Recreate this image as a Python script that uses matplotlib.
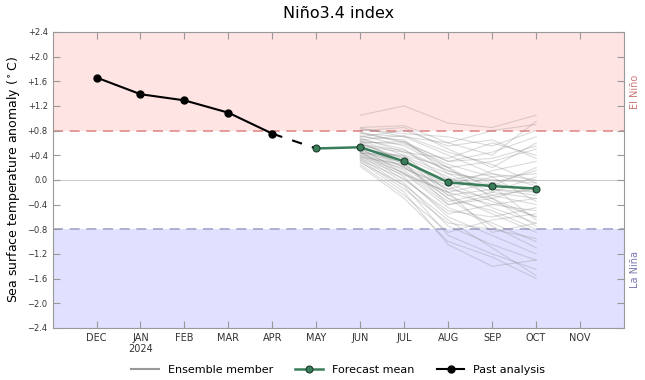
import matplotlib
matplotlib.use("Agg")
from matplotlib import pyplot as plt

months = ["DEC", "JAN\n2024", "FEB", "MAR", "APR", "MAY", "JUN", "JUL", "AUG", "SEP", "OCT", "NOV"]
past = [1.66, 1.39, 1.29, 1.09, 0.75]          # DEC..APR
mean_fc = [0.51, 0.53, 0.30, -0.04, -0.10, -0.14]  # MAY..OCT
ens = [  # JUN, JUL, AUG, SEP, OCT
    [1.05, 1.20, 0.92, 0.85, 1.05], [0.85, 0.88, 0.60, 0.40, 0.95],
    [0.82, 0.75, 0.70, 0.55, 0.80], [0.80, 0.85, 0.50, 0.20, 0.60],
    [0.78, 0.60, 0.30, 0.45, 0.70], [0.75, 0.70, 0.40, 0.10, -0.10],
    [0.72, 0.55, 0.20, 0.30, 0.50], [0.70, 0.65, 0.10, -0.20, -0.30],
    [0.68, 0.45, 0.35, 0.60, 0.40], [0.66, 0.50, 0.00, -0.10, 0.20],
    [0.64, 0.40, -0.20, -0.40, -0.50], [0.62, 0.58, 0.25, 0.05, 0.10],
    [0.60, 0.30, -0.10, 0.15, 0.30], [0.58, 0.35, 0.05, -0.25, -0.40],
    [0.56, 0.20, -0.30, -0.50, -0.80], [0.55, 0.45, 0.15, -0.05, -0.20],
    [0.54, 0.25, -0.15, -0.30, -0.10], [0.52, 0.10, -0.45, -0.70, -1.00],
    [0.50, 0.38, 0.10, 0.00, -0.05], [0.48, 0.15, -0.35, -0.20, 0.05],
    [0.47, 0.30, -0.05, -0.35, -0.60], [0.46, 0.05, -0.60, -0.90, -1.20],
    [0.45, 0.28, 0.00, 0.10, 0.00], [0.44, 0.00, -0.50, -0.60, -0.45],
    [0.42, 0.22, -0.25, -0.15, -0.25], [0.40, -0.05, -0.75, -1.05, -1.30],
    [0.40, 0.18, -0.10, -0.45, -0.70], [0.38, 0.12, -0.40, -0.25, -0.15],
    [0.36, -0.10, -0.90, -1.20, -1.45], [0.35, 0.08, -0.20, -0.05, 0.15],
    [0.33, -0.15, -0.70, -0.80, -0.95], [0.32, 0.02, -0.55, -0.40, -0.30],
    [0.30, -0.20, -1.05, -1.40, -1.30], [0.28, -0.08, -0.65, -1.10, -1.55],
    [0.25, -0.25, -0.85, -0.65, -0.55], [0.22, -0.30, -1.00, -1.25, -1.60],
    [0.70, 0.80, 0.55, 0.65, 0.35], [0.65, 0.72, 0.45, 0.25, -0.05],
    [0.60, 0.62, 0.30, 0.35, 0.55], [0.57, 0.48, 0.15, -0.10, -0.65],
    [0.53, 0.35, -0.25, -0.55, -0.85], [0.50, 0.20, -0.15, 0.05, -0.35],
    [0.43, 0.40, 0.20, -0.15, -0.20], [0.37, 0.25, -0.30, -0.75, -1.10],
    [0.84, 0.70, 0.60, 0.80, 0.90], [0.76, 0.62, 0.20, -0.30, -0.75],
    [0.63, 0.28, -0.40, -0.30, -0.60], [0.45, 0.10, -0.20, -0.85, -0.70],
]
yticks = [-2.4, -2.0, -1.6, -1.2, -0.8, -0.4, 0.0, 0.4, 0.8, 1.2, 1.6, 2.0, 2.4]
ylabels = ["{:+.1f}".format(v) if v != 0 else "0.0" for v in yticks]
ylabels = [s.replace("-", "\u2212") for s in ylabels]

x = list(range(len(months)))
x_past = x[:5]
x_fc = x[5:11]
x_ens = x[6:11]

fig = plt.figure(figsize=(6.45, 3.8), dpi=100)
ax = fig.add_axes([0.0815, 0.137, 0.886, 0.779])

ax.axhspan(0.8, 2.4, color="#ffe4e4", lw=0, zorder=0)
ax.axhspan(-2.4, -0.8, color="#e0e0ff", lw=0, zorder=0)
ax.axhline(0.8, color="#e08a8a", ls=(0, (6, 4)), lw=1.2, zorder=1)
ax.axhline(-0.8, color="#a8a2c8", ls=(0, (6, 4)), lw=1.2, zorder=1)
ax.axhline(0.0, color="#cccccc", lw=0.8, zorder=1)

for i, m in enumerate(ens):
    ax.plot(x_ens, m, color="#888888", alpha=0.3, lw=0.8, zorder=2,
            label="Ensemble member" if i == 0 else None)

ax.plot([x_past[-1], x_fc[0]], [past[-1], mean_fc[0]], color="black", lw=1.5,
        ls=(0, (5, 5)), zorder=3)
ax.plot(x_fc, mean_fc, color="#3a7d5a", lw=1.8, marker="o", ms=5,
        mfc="#3a7d5a", mec="#1d3d2c", mew=0.8, zorder=4, label="Forecast mean")
ax.plot(x_past, past, color="black", lw=1.5, marker="o", ms=5, zorder=4,
        label="Past analysis")

ax.set_xlim(-1, 12)
ax.set_ylim(-2.4, 2.4)
ax.set_xticks(x)
ax.set_xticklabels(months, fontsize=7, color="#333333")
ax.set_yticks(yticks)
ax.set_yticklabels(ylabels, fontsize=6, color="#333333")
ax.tick_params(direction="in", length=5, color="#999999", top=True, right=True)
for s in ax.spines.values():
    s.set_color("#999999")

ax.set_ylabel("Sea surface temperature anomaly ($^\\circ$C)", fontsize=9)
ax.set_title("Niño3.4 index", fontsize=11.5, pad=10)
fig.text(0.985, 0.758, "El Niño", rotation=90, color="#d07878", fontsize=7, ha="center", va="center")
fig.text(0.985, 0.29, "La Niña", rotation=90, color="#7878b0", fontsize=7, ha="center", va="center")

h, l = ax.get_legend_handles_labels()
leg = ax.legend(h, l, loc="upper center", bbox_to_anchor=(0.5, -0.09), ncol=3,
                frameon=False, fontsize=8, handlelength=2.5, columnspacing=2.0)
for lh in leg.get_lines():
    lh.set_alpha(1)
leg.get_lines()[0].set_color("#999999")
leg.get_lines()[0].set_linewidth(1.5)

fig.savefig("out.png", dpi=100)
